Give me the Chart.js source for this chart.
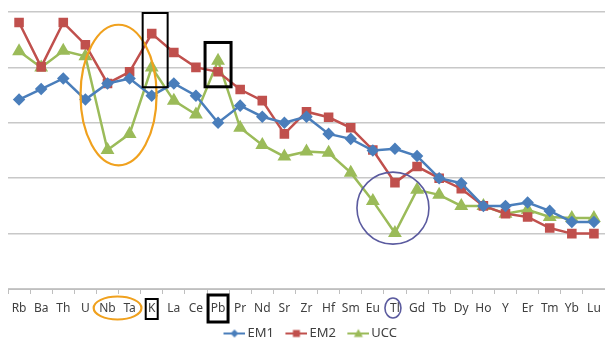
<!DOCTYPE html>
<html>
<head>
<meta charset="utf-8">
<script src="https://cdn.jsdelivr.net/npm/chart.js@4"></script>
<style>
  html, body { margin: 0; padding: 0; background: #fff; overflow: hidden; }
  #wrap { width: 605px; height: 343px; }
</style>
</head>
<body>
<div id="wrap"><canvas id="chart"></canvas></div>
<script>
const elements = ["Rb", "Ba", "Th", "U", "Nb", "Ta", "K", "La", "Ce", "Pb", "Pr", "Nd", "Sr", "Zr",
  "Hf", "Sm", "Eu", "Tl", "Gd", "Tb", "Dy", "Ho", "Y", "Er", "Tm", "Yb", "Lu"];

const em1 = [3.42, 3.61, 3.80, 3.42, 3.71, 3.80, 3.49, 3.71, 3.49, 3.00, 3.31, 3.11, 3.00, 3.11,
  2.80, 2.71, 2.50, 2.53, 2.40, 2.00, 1.91, 1.50, 1.50, 1.56, 1.41, 1.21, 1.21];
const em2 = [4.81, 4.01, 4.81, 4.41, 3.71, 3.92, 4.61, 4.27, 4.00, 3.92, 3.60, 3.40, 2.80, 3.20,
  3.10, 2.91, 2.51, 1.92, 2.21, 2.00, 1.81, 1.50, 1.36, 1.30, 1.10, 1.00, 1.00];
const ucc = [4.29, 4.00, 4.30, 4.20, 2.51, 2.80, 4.00, 3.40, 3.15, 4.12, 2.91, 2.60, 2.39, 2.48,
  2.46, 2.10, 1.59, 1.01, 1.79, 1.70, 1.50, 1.50, 1.36, 1.43, 1.30, 1.28, 1.28];

const blue = "#4a7ebb";
const red = "#c0504d";
const green = "#9bbb59";

// legend swatch: line with marker, sitting in the right part of the image
function swatch(color, shape) {
  const c = document.createElement("canvas");
  c.width = 34;
  c.height = 12;
  const g = c.getContext("2d");
  g.strokeStyle = color;
  g.lineWidth = 2;
  g.beginPath();
  g.moveTo(12, 6);
  g.lineTo(34, 6);
  g.stroke();
  g.fillStyle = color;
  g.beginPath();
  const m = 23;
  if (shape === "diamond") {
    g.moveTo(m, 2); g.lineTo(m + 4, 6); g.lineTo(m, 10); g.lineTo(m - 4, 6);
  } else if (shape === "square") {
    g.rect(m - 3.5, 2.5, 7, 7);
  } else {
    g.moveTo(m, 1.5); g.lineTo(m + 4.5, 9.5); g.lineTo(m - 4.5, 9.5);
  }
  g.closePath();
  g.fill();
  return c;
}

const swatches = [swatch(blue, "diamond"), swatch(red, "square"), swatch(green, "triangle")];

// hand drawn highlight marks, placed from the scales
const highlights = {
  id: "highlights",
  afterDatasetsDraw(chart) {
    const ctx = chart.ctx;
    const x = chart.scales.x;
    const y = chart.scales.y;
    const cw = x.getPixelForValue(1) - x.getPixelForValue(0);
    const uh = y.getPixelForValue(0) - y.getPixelForValue(1);
    const base = y.getPixelForValue(0);
    const lblY = base + 19;
    const px = (i) => x.getPixelForValue(i);

    ctx.save();
    // Nb-Ta ellipse
    ctx.strokeStyle = "#f0a11e";
    ctx.lineWidth = 2.2;
    ctx.beginPath();
    ctx.ellipse((px(4) + px(5)) / 2, y.getPixelForValue(3.5), cw * 1.72, uh * 1.27, 0, 0, Math.PI * 2);
    ctx.stroke();
    ctx.beginPath();
    ctx.ellipse((px(4) + px(5)) / 2 - 1, lblY, cw * 1.08, 11.5, 0, 0, Math.PI * 2);
    ctx.stroke();

    // K box
    ctx.strokeStyle = "#000";
    ctx.lineWidth = 2;
    ctx.strokeRect(px(6) - cw * 0.41, y.getPixelForValue(5) + 1, cw * 1.13, uh * 1.34);
    ctx.strokeRect(px(6) - 6, lblY - 9, 12, 20);

    // Pb box
    ctx.lineWidth = 3;
    ctx.strokeRect(px(9) - 13, y.getPixelForValue(4.45), 26, uh * 0.8);
    ctx.strokeRect(px(9) - 10, lblY - 13, 20, 27);

    // Tl circle
    ctx.strokeStyle = "#5b5b9f";
    ctx.lineWidth = 1.6;
    ctx.beginPath();
    ctx.ellipse(px(17) - 2, y.getPixelForValue(1.46), 36, 36, 0, 0, Math.PI * 2);
    ctx.stroke();
    ctx.beginPath();
    ctx.ellipse(px(17) - 2, lblY, 8, 10, 0, 0, Math.PI * 2);
    ctx.stroke();
    ctx.restore();
  }
};

new Chart(document.getElementById("chart"), {
  type: "line",
  data: {
    labels: elements,
    datasets: [
      {
        label: "EM1",
        data: em1,
        borderColor: blue,
        backgroundColor: blue,
        borderWidth: 2.5,
        pointStyle: "rectRot",
        pointRadius: 4.5,
        pointHoverRadius: 4.5,
        tension: 0,
      },
      {
        label: "EM2",
        data: em2,
        borderColor: red,
        backgroundColor: red,
        borderWidth: 2.5,
        pointStyle: "rect",
        pointRadius: 5,
        pointHoverRadius: 5,
        tension: 0,
      },
      {
        label: "UCC",
        data: ucc,
        borderColor: green,
        backgroundColor: green,
        borderWidth: 2.5,
        pointStyle: "triangle",
        pointRadius: 5.5,
        pointHoverRadius: 5.5,
        tension: 0,
      },
    ],
  },
  options: {
    responsive: true,
    maintainAspectRatio: false,
    animation: false,
    layout: { autoPadding: false, padding: { left: 8, right: 0, top: 12, bottom: -7 } },
    plugins: {
      tooltip: { enabled: false },
      legend: {
        position: "bottom",
        labels: {
          usePointStyle: true,
          pointStyleWidth: 25,
          padding: 4,
          color: "#404040",
          font: { family: "Noto Sans", size: 13 },
          generateLabels(chart) {
            return chart.data.datasets.map((ds, i) => ({
              text: ds.label,
              pointStyle: swatches[i],
              fillStyle: ds.borderColor,
              strokeStyle: ds.borderColor,
              lineWidth: 0,
              fontColor: "#404040",
              hidden: false,
              datasetIndex: i,
            }));
          },
        },
      },
    },
    scales: {
      x: {
        offset: true,
        afterFit(scale) {
          scale.paddingLeft = 0;
          scale.paddingRight = 0;
          scale.height = 34;
        },
        grid: {
          display: true,
          drawOnChartArea: false,
          drawTicks: true,
          tickLength: 5,
          color: "#bfbfbf",
          offset: true,
        },
        border: { display: true, color: "#bfbfbf", width: 1 },
        ticks: {
          color: "#404040",
          font: { family: "Noto Sans", size: 12 },
          maxRotation: 0,
          autoSkip: false,
          padding: 7,
        },
      },
      y: {
        min: 0,
        max: 5,
        ticks: { display: false, stepSize: 1 },
        grid: { color: "#c8c8c8", lineWidth: 1.5, drawTicks: false },
        border: { display: false },
      },
    },
  },
  plugins: [highlights],
});
</script>
</body>
</html>
